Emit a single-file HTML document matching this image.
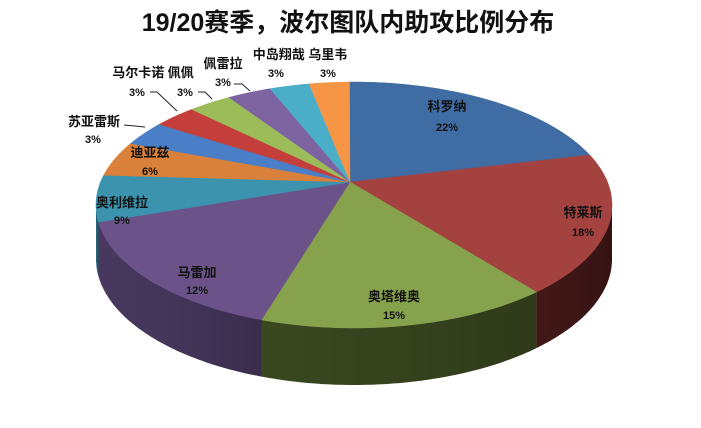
<!DOCTYPE html>
<html><head><meta charset="utf-8"><style>
html,body{margin:0;padding:0;background:#fff;width:701px;height:428px;overflow:hidden}
svg text{font-family:"Liberation Sans","Noto Sans CJK SC",sans-serif;font-weight:bold;fill:#111}
</style></head><body>
<svg id="s" width="701" height="428" viewBox="0 0 701 428" xmlns="http://www.w3.org/2000/svg">
<defs>
<linearGradient id="sh" x1="0" x2="1" y1="0" y2="0">
<stop offset="0" stop-color="#000" stop-opacity="0.05"/>
<stop offset="0.5" stop-color="#000" stop-opacity="0.2"/>
<stop offset="1" stop-color="#000" stop-opacity="0.45"/>
</linearGradient>
</defs>
<g id="pie"></g>
<text x="348" y="31" font-size="25" text-anchor="middle">19/20赛季，波尔图队内助攻比例分布</text>
<g font-size="13" text-anchor="middle">
<text x="447" y="111">科罗纳</text><text x="447" y="131" font-size="11">22%</text>
<text x="583" y="217">特莱斯</text><text x="583" y="236" font-size="11">18%</text>
<text x="394" y="301">奥塔维奥</text><text x="394" y="319" font-size="11">15%</text>
<text x="197" y="277">马雷加</text><text x="197" y="294" font-size="11">12%</text>
<text x="122" y="207">奥利维拉</text><text x="122" y="224" font-size="11">9%</text>
<text x="150" y="157">迪亚兹</text><text x="150" y="175" font-size="11">6%</text>
<text x="94" y="126">苏亚雷斯</text><text x="93" y="143" font-size="11">3%</text>
<text x="153" y="77">马尔卡诺 佩佩</text>
<text x="137" y="96" font-size="11">3%</text><text x="185" y="96" font-size="11">3%</text>
<text x="223" y="68">佩雷拉</text><text x="223" y="86" font-size="11">3%</text>
<text x="300" y="59">中岛翔哉 乌里韦</text>
<text x="276" y="77" font-size="11">3%</text><text x="328" y="77" font-size="11">3%</text>
</g>
<g stroke="#222" stroke-width="1" fill="none">
<path d="M124 125 L145 127"/>
<path d="M150 92 L157 92 L177 111"/>
<path d="M198 92 L205 92 L212 99"/>
<path d="M234 84 L242 84 L250 91"/>
</g>
</svg>
<script>
(function(){
var cx=354,cy=205,rx=258,ry=123,bcy=259,bry=126,ax=350,ay=182;
var ts=[-1,66,135,201,262,284,300,311,321,331,341,350,359];
var topC=["#3f6ca2","#a3423f","#86a24c","#6b5389","#3b93ad","#d9813a","#4a7ec6","#c43f3b","#9cbc5a","#7e63a1","#4aaec8","#f69545"];
var sideC=["#2b4a70","#441818","#3b4a20","#4a3a62","#29697c","#a05a24","#33588a","#8a2b28","#6c8440","#584570","#34798c","#b06a30"];
function P(t,c,r){var a=t*Math.PI/180;return [cx+rx*Math.sin(a),c-r*Math.cos(a)];}
var g=document.getElementById("pie"),h="";
for(var i=0;i<12;i++){var t1=Math.max(ts[i],90),t2=Math.min(ts[i+1],270);if(t2<=t1)continue;
var d="";for(var t=t1;t<=t2+0.01;t+=1){var p=P(Math.min(t,t2),cy,ry);d+=(d?"L":"M")+p[0].toFixed(1)+" "+p[1].toFixed(1);}
for(var t=t2;t>=t1-0.01;t-=1){var p=P(Math.max(t,t1),bcy,bry);d+="L"+p[0].toFixed(1)+" "+p[1].toFixed(1);}
d+="Z";h+='<path d="'+d+'" fill="'+sideC[i]+'"/><path d="'+d+'" fill="url(#sh)" opacity="0.5"/>';}
for(var i=0;i<12;i++){var d="M"+ax+" "+ay;for(var t=ts[i];t<=ts[i+1]+0.01;t+=1){var p=P(Math.min(t,ts[i+1]),cy,ry);d+="L"+p[0].toFixed(1)+" "+p[1].toFixed(1);}
d+="Z";h+='<path d="'+d+'" fill="'+topC[i]+'" stroke="'+topC[i]+'" stroke-width="0.5"/>';}
g.innerHTML=h;
})();
</script>
</body></html>
